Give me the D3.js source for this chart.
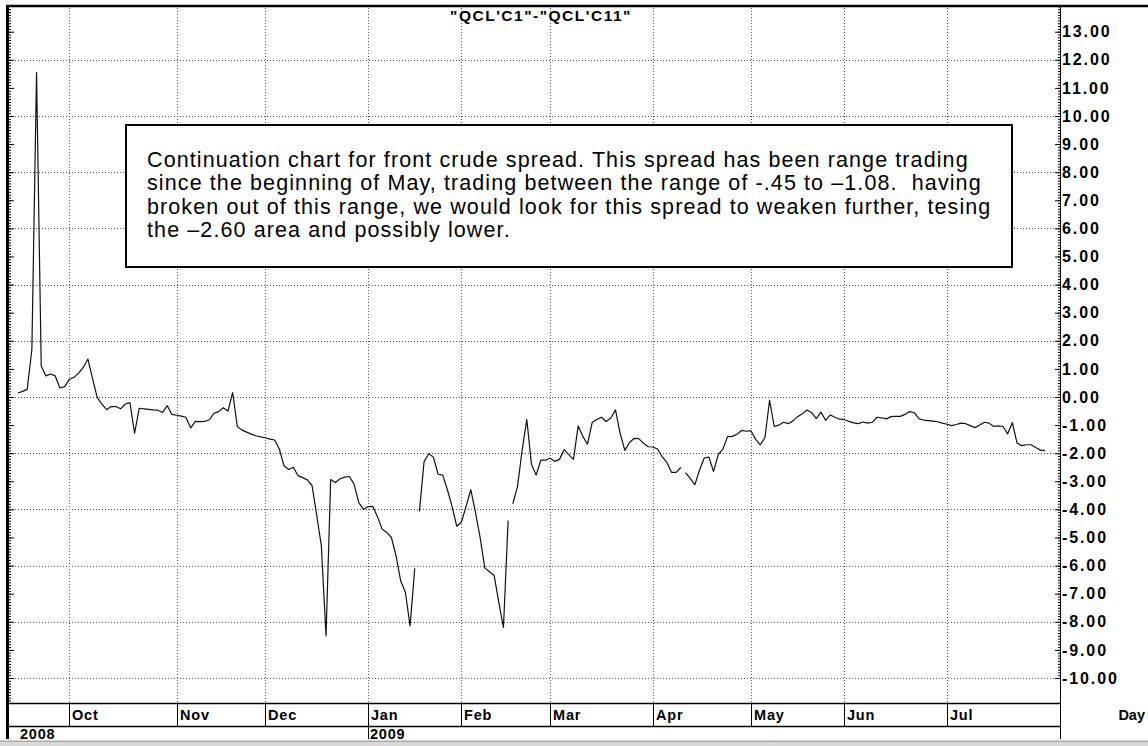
<!DOCTYPE html>
<html>
<head>
<meta charset="utf-8">
<script src="https://cdn.jsdelivr.net/npm/d3@7"></script>
<style>
  body { margin: 0; background: #fff; }
  svg { display: block; font-family: "Liberation Sans", Arial, sans-serif; }
</style>
</head>
<body>
<svg id="chart" width="1148" height="746"></svg>
<script>
const chartTitle = "\"QCL'C1\"-\"QCL'C11\"";

// daily spread values, first entry = 16 Sep 2008 (one entry per trading day)
const spread = [
   0.14,  0.20,  0.27,  1.70, 11.55,  1.10,  0.75,  0.82,  0.75,  0.32,
   0.37,  0.62,  0.70,  0.85,  1.05,  1.35,  0.65, -0.02, -0.25, -0.45,
  -0.34, -0.34, -0.42, -0.25, -0.20, -1.29, -0.40, -0.42, -0.44, -0.46,
  -0.47, -0.55, -0.31, -0.62, -0.65, -0.68, -0.72, -1.10, -0.87, -0.88,
  -0.87, -0.81, -0.58, -0.52, -0.38, -0.50,  0.16, -1.05, -1.18, -1.25,
  -1.32, -1.38, -1.42, -1.45, -1.50, -1.53, -1.85, -2.45, -2.58, -2.50,
  -2.80, -2.87, -2.95, -3.15, -4.20, -5.30, -8.50, -2.94, -3.04, -2.91,
  -2.85, -2.83, -3.10, -3.75, -4.00, -3.90, -3.89, -4.25, -4.70, -4.82,
  -5.00, -5.65, -6.55, -6.95, -8.15, -6.10, -4.07, -2.30, -2.02, -2.14,
  -2.75, -2.78, -3.30, -3.90, -4.60, -4.45, -3.89, -3.30, -4.10, -5.00,
  -6.08, -6.22, -6.35, -7.30, -8.20, -4.40, -3.80, -3.20, -1.90, -0.80,
  -2.40, -2.78, -2.25, -2.25, -2.18, -2.29, -2.22, -1.87, -2.05, -2.22,
  -1.03, -1.40, -1.68, -0.91, -0.80, -0.72, -0.87, -0.75, -0.46, -1.30,
  -1.90, -1.62, -1.47, -1.48, -1.65, -1.77, -1.78, -1.85, -2.12, -2.33,
  -2.68, -2.68, -2.50, -2.69, -2.90, -3.12, -2.60, -2.17, -2.14, -2.65,
  -2.05, -1.85, -1.41, -1.40, -1.33, -1.19, -1.22, -1.20, -1.50, -1.70,
  -1.45, -0.12, -1.05, -1.00, -0.90, -0.95, -0.85, -0.70, -0.60, -0.46,
  -0.56, -0.77, -0.54, -0.83, -0.64, -0.72, -0.79, -0.80, -0.87, -0.92,
  -0.95, -0.89, -0.93, -0.90, -0.72, -0.74, -0.78, -0.70, -0.69, -0.69,
  -0.62, -0.52, -0.56, -0.78, -0.82, -0.84, -0.86, -0.88, -0.93, -0.97,
  -1.02, -0.98, -0.93, -0.95, -1.02, -1.09, -1.00, -0.90, -0.93, -1.05,
  -1.03, -1.05, -1.31, -0.91, -1.64, -1.73, -1.70, -1.70, -1.80, -1.89,
  -1.91
];
// day indexes where the continuation line restarts after a gap
const segmentStarts = [86, 106, 143];

const monthLabels = ["Oct", "Nov", "Dec", "Jan", "Feb", "Mar", "Apr", "May", "Jun", "Jul"];
const monthStart  = [11, 34, 53, 75, 95, 114, 136, 157, 177, 199];
const yearLabels  = ["2008", "2009"];
const yearStart   = [-1.9, 75];

const noteLines = [
  "Continuation chart for front crude spread. This spread has been range trading",
  "since the beginning of May, trading between the range of -.45 to \u20131.08.  having",
  "broken out of this range, we would look for this spread to weaken further, tesing",
  "the \u20132.60 area and possibly lower."
];

const svg = d3.select("#chart");
const plotL = 9, plotR = 1060, plotT = 5, plotB = 703;

const x = d3.scaleLinear().domain([-1.9, 223.2]).range([plotL, plotR]);
const y = d3.scaleLinear().domain([-10.89, 13.95]).range([plotB, plotT]);

// dotted grid
const grid = svg.append("g").attr("stroke", "#555").attr("stroke-width", 1)
  .attr("stroke-dasharray", "1,2");
grid.selectAll("line.h").data(d3.range(-10, 13, 2)).join("line")
  .attr("x1", plotL).attr("x2", plotR)
  .attr("y1", d => Math.round(y(d)) + 0.5).attr("y2", d => Math.round(y(d)) + 0.5);
grid.selectAll("line.v").data(monthStart).join("line")
  .attr("x1", d => Math.round(x(d)) + 0.5).attr("x2", d => Math.round(x(d)) + 0.5)
  .attr("y1", plotT).attr("y2", plotB);

// the spread line, split where the continuation has gaps
const pts = spread.map((v, i) => ({ i, v }));
const cuts = [0, ...segmentStarts, pts.length];
const segs = d3.range(cuts.length - 1).map(k => pts.slice(cuts[k], cuts[k + 1]));
const line = d3.line().x(d => x(d.i)).y(d => y(d.v));
svg.append("g").selectAll("path").data(segs).join("path")
  .attr("d", line).attr("fill", "none").attr("stroke", "#111")
  .attr("stroke-width", 1.2).attr("stroke-linejoin", "round");

// note box
const box = svg.append("g");
box.append("rect").attr("x", 126).attr("y", 125).attr("width", 886).attr("height", 142)
  .attr("fill", "#fff").attr("stroke", "#000").attr("stroke-width", 2);
box.selectAll("text").data(noteLines).join("text")
  .attr("x", 147).attr("y", (d, i) => 167 + i * 23.3)
  .attr("font-size", 21.5).attr("letter-spacing", 1.1)
  .style("white-space", "pre").text(d => d);

// title
svg.append("text").attr("x", 541).attr("y", 21).attr("text-anchor", "middle")
  .attr("font-size", 15.5).attr("font-weight", "bold").attr("letter-spacing", 1.5)
  .text(chartTitle);

// right price axis
const fmt = d => d.toFixed(2);
svg.append("g").attr("transform", `translate(${plotR},0)`)
  .call(d3.axisRight(y).tickValues(d3.range(-100, 140, 1).map(d => d / 10))
    .tickSizeInner(-2).tickSizeOuter(0).tickFormat(""))
  .call(g => g.select(".domain").remove());
svg.append("g").attr("transform", `translate(${plotR},0)`)
  .call(d3.axisRight(y).tickValues(d3.range(-10, 14)).tickSizeInner(-5)
    .tickSizeOuter(0).tickPadding(2).tickFormat(fmt))
  .call(g => g.select(".domain").remove())
  .call(g => g.selectAll("text").attr("font-family", "Liberation Sans, Arial, sans-serif")
    .attr("font-size", 16).attr("font-weight", "bold").attr("letter-spacing", 1.9)
    .attr("fill", "#000"));

// left border ticks
svg.append("g").attr("transform", `translate(${plotL},0)`)
  .call(d3.axisRight(y).tickValues(d3.range(-108, 139, 1).map(d => d / 10))
    .tickSize(2).tickFormat(""))
  .call(g => g.select(".domain").remove());
svg.append("g").attr("transform", `translate(${plotL},0)`)
  .call(d3.axisRight(y).tickValues(d3.range(-10, 14)).tickSize(5).tickFormat(""))
  .call(g => g.select(".domain").remove());

// frame
const frame = svg.append("g").attr("stroke", "#000");
frame.append("line").attr("x1", 6).attr("x2", 1148).attr("y1", 6).attr("y2", 6).attr("stroke-width", 2.5);
frame.append("line").attr("x1", 7.5).attr("x2", 7.5).attr("y1", 5).attr("y2", 739).attr("stroke-width", 3);
frame.append("line").attr("x1", plotR + 0.5).attr("x2", plotR + 0.5).attr("y1", 5).attr("y2", 739);
frame.append("line").attr("x1", plotL).attr("x2", plotR).attr("y1", plotB + 0.5).attr("y2", plotB + 0.5).attr("stroke-width", 1.5);
frame.append("line").attr("x1", plotL).attr("x2", plotR).attr("y1", 726.5).attr("y2", 726.5).attr("stroke-width", 1.5);

// month row
const months = svg.append("g");
months.selectAll("line").data(monthStart).join("line")
  .attr("x1", d => Math.round(x(d)) + 0.5).attr("x2", d => Math.round(x(d)) + 0.5)
  .attr("y1", plotB).attr("y2", 726).attr("stroke", "#000");
months.selectAll("text").data(monthLabels).join("text")
  .attr("x", (d, i) => Math.round(x(monthStart[i])) + 3).attr("y", 720)
  .attr("font-size", 14.5).attr("font-weight", "bold").attr("letter-spacing", 0.8)
  .text(d => d);

// year row
const years = svg.append("g");
years.selectAll("line").data(yearStart.slice(1)).join("line")
  .attr("x1", d => Math.round(x(d)) + 0.5).attr("x2", d => Math.round(x(d)) + 0.5)
  .attr("y1", 726).attr("y2", 739).attr("stroke", "#000");
years.selectAll("text").data(yearLabels).join("text")
  .attr("x", (d, i) => Math.max(Math.round(x(yearStart[i])) + 2, 20)).attr("y", 739)
  .attr("font-size", 14.5).attr("font-weight", "bold").attr("letter-spacing", 0.8)
  .text(d => d);

svg.append("text").attr("x", 1145).attr("y", 720).attr("text-anchor", "end")
  .attr("font-size", 14.5).attr("font-weight", "bold").text("Day");

// status strip at the bottom
const strip = svg.append("g");
strip.append("rect").attr("x", 0).attr("y", 739).attr("width", 1148).attr("height", 7).attr("fill", "#d8d8d8");
strip.append("line").attr("x1", 0).attr("x2", 1148).attr("y1", 739.5).attr("y2", 739.5).attr("stroke", "#f4f4f4");
strip.append("line").attr("x1", 0).attr("x2", 1148).attr("y1", 741.5).attr("y2", 741.5).attr("stroke", "#a8a8a8");
</script>
</body>
</html>
